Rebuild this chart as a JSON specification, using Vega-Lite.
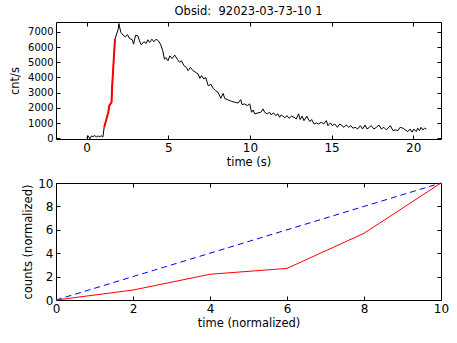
{
  "$schema": "https://vega.github.io/schema/vega-lite/v6.json",
  "autosize": {"type": "pad"},
  "padding": {"left": 9, "top": 5, "right": 5, "bottom": 5},
  "background": "white",
  "spacing": 44,
  "bounds": "flush",
  "config": {
    "font": "DejaVu Sans",
    "view": {"stroke": "black", "strokeWidth": 1},
    "axis": {
      "grid": false,
      "domain": false,
      "tickColor": "black",
      "tickSize": -4,
      "labelPadding": 7,
      "labelColor": "black",
      "labelFont": "DejaVu Sans",
      "labelFontSize": 12,
      "titleFont": "DejaVu Sans",
      "titleFontSize": 11.5,
      "titleFontWeight": "normal",
      "titleColor": "black",
      "labelFlush": false,
      "labelOverlap": false
    },
    "title": {"font": "DejaVu Sans", "fontSize": 11.5, "fontWeight": "normal", "color": "black"}
  },
  "datasets": {
    "lc": [
      {"t": 0, "v": 60}, {"t": 0.1, "v": 160}, {"t": 0.2, "v": -40}, {"t": 0.3, "v": 150}, {"t": 0.4, "v": 110},
      {"t": 0.5, "v": 180}, {"t": 0.6, "v": 80}, {"t": 0.7, "v": 150}, {"t": 0.8, "v": 100}, {"t": 0.9, "v": 160},
      {"t": 1.0, "v": 80}, {"t": 1.08, "v": 720}, {"t": 1.33, "v": 1700}, {"t": 1.39, "v": 2140}, {"t": 1.53, "v": 2360},
      {"t": 1.57, "v": 3450}, {"t": 1.74, "v": 6520}, {"t": 1.94, "v": 7180}, {"t": 1.98, "v": 7550}, {"t": 2.1, "v": 6960},
      {"t": 2.24, "v": 6790}, {"t": 2.38, "v": 6670}, {"t": 2.5, "v": 6820}, {"t": 2.64, "v": 6560}, {"t": 2.8, "v": 6480},
      {"t": 2.88, "v": 6190}, {"t": 3.0, "v": 6780}, {"t": 3.14, "v": 6740}, {"t": 3.24, "v": 6410}, {"t": 3.35, "v": 6150},
      {"t": 3.51, "v": 6350}, {"t": 3.65, "v": 6240}, {"t": 3.75, "v": 6480}, {"t": 3.86, "v": 6300}, {"t": 4.0, "v": 6520},
      {"t": 4.12, "v": 6350}, {"t": 4.26, "v": 6520}, {"t": 4.4, "v": 6410}, {"t": 4.53, "v": 6190}, {"t": 4.67, "v": 5750},
      {"t": 4.77, "v": 5200}, {"t": 4.86, "v": 5310}, {"t": 4.99, "v": 5100}, {"t": 5.1, "v": 5420}, {"t": 5.24, "v": 5250},
      {"t": 5.4, "v": 5470}, {"t": 5.56, "v": 5200}, {"t": 5.7, "v": 4990}, {"t": 5.81, "v": 5100}, {"t": 5.97, "v": 4770},
      {"t": 6.11, "v": 4660}, {"t": 6.22, "v": 4450}, {"t": 6.36, "v": 4660}, {"t": 6.52, "v": 4450}, {"t": 6.67, "v": 4340},
      {"t": 6.83, "v": 4230}, {"t": 6.94, "v": 3940}, {"t": 7.04, "v": 4120}, {"t": 7.18, "v": 3900}, {"t": 7.29, "v": 4010},
      {"t": 7.45, "v": 3450}, {"t": 7.61, "v": 3560}, {"t": 7.75, "v": 3280}, {"t": 7.9, "v": 3130}, {"t": 8.05, "v": 3020},
      {"t": 8.22, "v": 2630}, {"t": 8.36, "v": 2950}, {"t": 8.46, "v": 2620}, {"t": 8.67, "v": 2520}, {"t": 8.87, "v": 2430},
      {"t": 9.07, "v": 2370}, {"t": 9.28, "v": 2320}, {"t": 9.44, "v": 2540}, {"t": 9.52, "v": 2210}, {"t": 9.68, "v": 2260},
      {"t": 9.84, "v": 2150}, {"t": 9.99, "v": 2260}, {"t": 10.1, "v": 1710}, {"t": 10.2, "v": 1860}, {"t": 10.3, "v": 1600},
      {"t": 10.5, "v": 1670}, {"t": 10.67, "v": 1710}, {"t": 10.81, "v": 1930}, {"t": 10.9, "v": 1710}, {"t": 11.06, "v": 1600},
      {"t": 11.21, "v": 1710}, {"t": 11.3, "v": 1540}, {"t": 11.45, "v": 1670}, {"t": 11.58, "v": 1490}, {"t": 11.72, "v": 1600},
      {"t": 11.82, "v": 1380}, {"t": 11.92, "v": 1540}, {"t": 12.13, "v": 1340}, {"t": 12.27, "v": 1490}, {"t": 12.4, "v": 1310},
      {"t": 12.54, "v": 1450}, {"t": 12.7, "v": 1380}, {"t": 12.84, "v": 1270}, {"t": 12.98, "v": 1600}, {"t": 13.08, "v": 1230},
      {"t": 13.2, "v": 1450}, {"t": 13.31, "v": 1160}, {"t": 13.49, "v": 1450}, {"t": 13.57, "v": 1270}, {"t": 13.68, "v": 1100},
      {"t": 13.78, "v": 1230}, {"t": 13.93, "v": 940}, {"t": 14.07, "v": 1010}, {"t": 14.21, "v": 940}, {"t": 14.37, "v": 1050},
      {"t": 14.52, "v": 940}, {"t": 14.68, "v": 1160}, {"t": 14.78, "v": 830}, {"t": 14.93, "v": 1010}, {"t": 15.05, "v": 830},
      {"t": 15.19, "v": 940}, {"t": 15.36, "v": 720}, {"t": 15.5, "v": 940}, {"t": 15.64, "v": 830}, {"t": 15.76, "v": 720},
      {"t": 15.9, "v": 870}, {"t": 16.05, "v": 720}, {"t": 16.18, "v": 830}, {"t": 16.31, "v": 660}, {"t": 16.45, "v": 720},
      {"t": 16.6, "v": 610}, {"t": 16.76, "v": 830}, {"t": 16.9, "v": 610}, {"t": 17.05, "v": 870}, {"t": 17.17, "v": 610},
      {"t": 17.32, "v": 720}, {"t": 17.42, "v": 830}, {"t": 17.59, "v": 610}, {"t": 17.75, "v": 720}, {"t": 17.9, "v": 870},
      {"t": 18.05, "v": 610}, {"t": 18.2, "v": 720}, {"t": 18.35, "v": 550}, {"t": 18.51, "v": 720}, {"t": 18.6, "v": 830},
      {"t": 18.76, "v": 500}, {"t": 18.9, "v": 550}, {"t": 19.06, "v": 500}, {"t": 19.2, "v": 720}, {"t": 19.37, "v": 660},
      {"t": 19.51, "v": 550}, {"t": 19.67, "v": 440}, {"t": 19.81, "v": 610}, {"t": 19.93, "v": 400}, {"t": 20.03, "v": 610},
      {"t": 20.18, "v": 440}, {"t": 20.28, "v": 660}, {"t": 20.38, "v": 500}, {"t": 20.48, "v": 720}, {"t": 20.58, "v": 550},
      {"t": 20.7, "v": 660}, {"t": 20.8, "v": 610}
    ],
    "rise": [
      {"t": 1.08, "v": 720}, {"t": 1.33, "v": 1700}, {"t": 1.39, "v": 2140}, {"t": 1.53, "v": 2360},
      {"t": 1.57, "v": 3450}, {"t": 1.74, "v": 6520}
    ],
    "cum": [
      {"x": 0, "y": 0}, {"x": 2, "y": 0.85}, {"x": 4, "y": 2.2}, {"x": 6, "y": 2.7}, {"x": 8, "y": 5.7}, {"x": 10, "y": 10}
    ],
    "diag": [
      {"x": 0, "y": 0}, {"x": 10, "y": 10}
    ]
  },
  "vconcat": [
    {
      "width": 385,
      "height": 117,
      "title": {"text": "Obsid:\u00a0 92023-03-73-10 1", "offset": 4},
      "layer": [
        {
          "data": {"name": "lc"},
          "mark": {"type": "line", "color": "black", "strokeWidth": 1, "clip": true},
          "encoding": {
            "x": {"field": "t", "type": "quantitative", "scale": {"domain": [-1.87, 21.7], "nice": false, "zero": false},
                  "axis": {"orient": "bottom", "values": [0, 5, 10, 15, 20], "title": "time (s)", "titlePadding": 3}},
            "y": {"field": "v", "type": "quantitative", "scale": {"domain": [-50, 7650], "nice": false, "zero": false},
                  "axis": {"orient": "left", "values": [0, 1000, 2000, 3000, 4000, 5000, 6000, 7000], "format": "d", "title": "cnt/s", "labelFontSize": 10, "titlePadding": 7}}
          }
        },
        {
          "data": {"name": "rise"},
          "mark": {"type": "line", "color": "#ff0000", "strokeWidth": 2, "clip": true},
          "encoding": {
            "x": {"field": "t", "type": "quantitative", "scale": {"domain": [-1.87, 21.7], "nice": false, "zero": false}, "axis": null},
            "y": {"field": "v", "type": "quantitative", "scale": {"domain": [-50, 7650], "nice": false, "zero": false}, "axis": null}
          }
        },
        {
          "data": {"name": "lc"},
          "mark": {"type": "line", "opacity": 0},
          "encoding": {
            "x": {"field": "t", "type": "quantitative", "scale": {"domain": [-1.87, 21.7], "nice": false, "zero": false},
                  "axis": {"orient": "top", "values": [0, 5, 10, 15, 20], "labels": false, "title": null}},
            "y": {"field": "v", "type": "quantitative", "scale": {"domain": [-50, 7650], "nice": false, "zero": false},
                  "axis": {"orient": "right", "values": [0, 1000, 2000, 3000, 4000, 5000, 6000, 7000], "labels": false, "title": null}}
          }
        }
      ],
      "resolve": {"axis": {"x": "independent", "y": "independent"}}
    },
    {
      "width": 385,
      "height": 117,
      "layer": [
        {
          "data": {"name": "diag"},
          "mark": {"type": "line", "color": "#0000ff", "strokeWidth": 1, "strokeDash": [6, 4]},
          "encoding": {
            "x": {"field": "x", "type": "quantitative", "scale": {"domain": [0, 10], "nice": false},
                  "axis": {"orient": "bottom", "values": [0, 2, 4, 6, 8, 10], "title": "time (normalized)", "titlePadding": 3}},
            "y": {"field": "y", "type": "quantitative", "scale": {"domain": [0, 10], "nice": false},
                  "axis": {"orient": "left", "values": [0, 2, 4, 6, 8, 10], "title": "counts (normalized)", "titlePadding": 4}}
          }
        },
        {
          "data": {"name": "cum"},
          "mark": {"type": "line", "color": "#ff0000", "strokeWidth": 1},
          "encoding": {
            "x": {"field": "x", "type": "quantitative", "scale": {"domain": [0, 10], "nice": false}, "axis": null},
            "y": {"field": "y", "type": "quantitative", "scale": {"domain": [0, 10], "nice": false}, "axis": null}
          }
        },
        {
          "data": {"name": "diag"},
          "mark": {"type": "line", "opacity": 0},
          "encoding": {
            "x": {"field": "x", "type": "quantitative", "scale": {"domain": [0, 10], "nice": false},
                  "axis": {"orient": "top", "values": [0, 2, 4, 6, 8, 10], "labels": false, "title": null}},
            "y": {"field": "y", "type": "quantitative", "scale": {"domain": [0, 10], "nice": false},
                  "axis": {"orient": "right", "values": [0, 2, 4, 6, 8, 10], "labels": false, "title": null}}
          }
        }
      ],
      "resolve": {"axis": {"x": "independent", "y": "independent"}}
    }
  ]
}
